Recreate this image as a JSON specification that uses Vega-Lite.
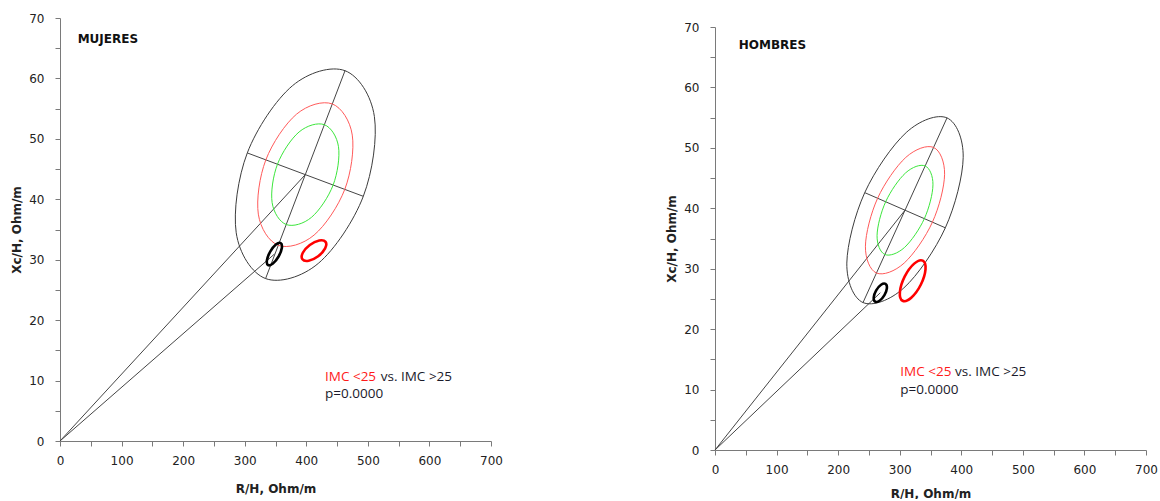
{
  "$schema": "https://vega.github.io/schema/vega-lite/v6.json",
  "padding": {"left": 10, "top": 12, "right": 0, "bottom": 0},
  "background": "white",
  "datasets": {
    "ell": [
      {"panel": "M", "id": "e95", "i": 0, "x": 462.9, "y": 61.28},
      {"panel": "M", "id": "e95", "i": 1, "x": 510.6, "y": 53.70},
      {"panel": "M", "id": "e95", "i": 2, "x": 492.6, "y": 40.49},
      {"panel": "M", "id": "e95", "i": 3, "x": 419.4, "y": 29.38},
      {"panel": "M", "id": "e95", "i": 4, "x": 333.9, "y": 26.88},
      {"panel": "M", "id": "e95", "i": 5, "x": 286.2, "y": 34.46},
      {"panel": "M", "id": "e95", "i": 6, "x": 304.2, "y": 47.67},
      {"panel": "M", "id": "e95", "i": 7, "x": 377.4, "y": 58.78},
      {"panel": "M", "id": "e75", "i": 0, "x": 442.2, "y": 55.78},
      {"panel": "M", "id": "e75", "i": 1, "x": 474.7, "y": 50.62},
      {"panel": "M", "id": "e75", "i": 2, "x": 462.5, "y": 41.64},
      {"panel": "M", "id": "e75", "i": 3, "x": 412.7, "y": 34.08},
      {"panel": "M", "id": "e75", "i": 4, "x": 354.6, "y": 32.38},
      {"panel": "M", "id": "e75", "i": 5, "x": 322.1, "y": 37.54},
      {"panel": "M", "id": "e75", "i": 6, "x": 334.3, "y": 46.52},
      {"panel": "M", "id": "e75", "i": 7, "x": 384.1, "y": 54.08},
      {"panel": "M", "id": "e50", "i": 0, "x": 429.4, "y": 52.34},
      {"panel": "M", "id": "e50", "i": 1, "x": 452.3, "y": 48.70},
      {"panel": "M", "id": "e50", "i": 2, "x": 443.6, "y": 42.36},
      {"panel": "M", "id": "e50", "i": 3, "x": 408.5, "y": 37.02},
      {"panel": "M", "id": "e50", "i": 4, "x": 367.5, "y": 35.82},
      {"panel": "M", "id": "e50", "i": 5, "x": 344.5, "y": 39.46},
      {"panel": "M", "id": "e50", "i": 6, "x": 353.2, "y": 45.80},
      {"panel": "M", "id": "e50", "i": 7, "x": 388.3, "y": 51.14},
      {"panel": "M", "id": "gBlack", "i": 0, "x": 358.4, "y": 32.75},
      {"panel": "M", "id": "gBlack", "i": 1, "x": 360.3, "y": 31.94},
      {"panel": "M", "id": "gBlack", "i": 2, "x": 355.0, "y": 30.53},
      {"panel": "M", "id": "gBlack", "i": 3, "x": 345.8, "y": 29.36},
      {"panel": "M", "id": "gBlack", "i": 4, "x": 338.0, "y": 29.11},
      {"panel": "M", "id": "gBlack", "i": 5, "x": 336.1, "y": 29.92},
      {"panel": "M", "id": "gBlack", "i": 6, "x": 341.4, "y": 31.33},
      {"panel": "M", "id": "gBlack", "i": 7, "x": 350.6, "y": 32.50},
      {"panel": "M", "id": "gRed", "i": 0, "x": 431.3, "y": 32.95},
      {"panel": "M", "id": "gRed", "i": 1, "x": 430.6, "y": 31.87},
      {"panel": "M", "id": "gRed", "i": 2, "x": 419.3, "y": 30.58},
      {"panel": "M", "id": "gRed", "i": 3, "x": 404.0, "y": 29.84},
      {"panel": "M", "id": "gRed", "i": 4, "x": 393.7, "y": 30.07},
      {"panel": "M", "id": "gRed", "i": 5, "x": 394.4, "y": 31.15},
      {"panel": "M", "id": "gRed", "i": 6, "x": 405.7, "y": 32.44},
      {"panel": "M", "id": "gRed", "i": 7, "x": 421.0, "y": 33.18},
      {"panel": "H", "id": "e95", "i": 0, "x": 376.8, "y": 54.96},
      {"panel": "H", "id": "e95", "i": 1, "x": 403.1, "y": 48.43},
      {"panel": "H", "id": "e95", "i": 2, "x": 374.1, "y": 36.77},
      {"panel": "H", "id": "e95", "i": 3, "x": 306.7, "y": 26.82},
      {"panel": "H", "id": "e95", "i": 4, "x": 240.4, "y": 24.40},
      {"panel": "H", "id": "e95", "i": 5, "x": 214.1, "y": 30.93},
      {"panel": "H", "id": "e95", "i": 6, "x": 243.2, "y": 42.59},
      {"panel": "H", "id": "e95", "i": 7, "x": 310.6, "y": 52.54},
      {"panel": "H", "id": "e75", "i": 0, "x": 355.0, "y": 50.07},
      {"panel": "H", "id": "e75", "i": 1, "x": 372.9, "y": 45.63},
      {"panel": "H", "id": "e75", "i": 2, "x": 353.1, "y": 37.70},
      {"panel": "H", "id": "e75", "i": 3, "x": 307.3, "y": 30.94},
      {"panel": "H", "id": "e75", "i": 4, "x": 262.2, "y": 29.29},
      {"panel": "H", "id": "e75", "i": 5, "x": 244.3, "y": 33.73},
      {"panel": "H", "id": "e75", "i": 6, "x": 264.1, "y": 41.66},
      {"panel": "H", "id": "e75", "i": 7, "x": 309.9, "y": 48.42},
      {"panel": "H", "id": "e50", "i": 0, "x": 341.3, "y": 47.01},
      {"panel": "H", "id": "e50", "i": 1, "x": 354.0, "y": 43.88},
      {"panel": "H", "id": "e50", "i": 2, "x": 340.0, "y": 38.28},
      {"panel": "H", "id": "e50", "i": 3, "x": 307.7, "y": 33.51},
      {"panel": "H", "id": "e50", "i": 4, "x": 275.9, "y": 32.35},
      {"panel": "H", "id": "e50", "i": 5, "x": 263.2, "y": 35.48},
      {"panel": "H", "id": "e50", "i": 6, "x": 277.2, "y": 41.08},
      {"panel": "H", "id": "e50", "i": 7, "x": 309.5, "y": 45.85},
      {"panel": "H", "id": "gBlack", "i": 0, "x": 276.9, "y": 27.49},
      {"panel": "H", "id": "gBlack", "i": 1, "x": 279.2, "y": 26.78},
      {"panel": "H", "id": "gBlack", "i": 2, "x": 275.2, "y": 25.62},
      {"panel": "H", "id": "gBlack", "i": 3, "x": 267.3, "y": 24.70},
      {"panel": "H", "id": "gBlack", "i": 4, "x": 260.1, "y": 24.56},
      {"panel": "H", "id": "gBlack", "i": 5, "x": 257.8, "y": 25.27},
      {"panel": "H", "id": "gBlack", "i": 6, "x": 261.8, "y": 26.42},
      {"panel": "H", "id": "gBlack", "i": 7, "x": 269.7, "y": 27.34},
      {"panel": "H", "id": "gRed", "i": 0, "x": 337.5, "y": 31.34},
      {"panel": "H", "id": "gRed", "i": 1, "x": 341.9, "y": 29.90},
      {"panel": "H", "id": "gRed", "i": 2, "x": 334.2, "y": 27.35},
      {"panel": "H", "id": "gRed", "i": 3, "x": 318.7, "y": 25.20},
      {"panel": "H", "id": "gRed", "i": 4, "x": 304.7, "y": 24.70},
      {"panel": "H", "id": "gRed", "i": 5, "x": 300.3, "y": 26.14},
      {"panel": "H", "id": "gRed", "i": 6, "x": 308.0, "y": 28.69},
      {"panel": "H", "id": "gRed", "i": 7, "x": 323.5, "y": 30.84}
    ],
    "segs": [
      {"panel": "M", "seg": "major", "x": 462.9, "y": 61.28, "x2": 333.9, "y2": 26.88},
      {"panel": "M", "seg": "minor", "x": 492.6, "y": 40.49, "x2": 304.2, "y2": 47.67},
      {"panel": "M", "seg": "toMean", "x": 0, "y": 0, "x2": 398.4, "y2": 44.08},
      {"panel": "M", "seg": "toGroup", "x": 0, "y": 0, "x2": 348.2, "y2": 30.93},
      {"panel": "H", "seg": "major", "x": 376.8, "y": 54.96, "x2": 240.4, "y2": 24.40},
      {"panel": "H", "seg": "minor", "x": 374.1, "y": 36.77, "x2": 243.2, "y2": 42.59},
      {"panel": "H", "seg": "toMean", "x": 0, "y": 0, "x2": 308.6, "y2": 39.68},
      {"panel": "H", "seg": "toGroup", "x": 0, "y": 0, "x2": 268.5, "y2": 26.02}
    ],
    "labels": [
      {"panel": "M", "kind": "title", "x": 28.7, "y": 66.5, "text": "MUJERES"},
      {"panel": "M", "kind": "red", "x": 430.4, "y": 10.0, "text": "IMC <25"},
      {"panel": "M", "kind": "dark", "x": 520.9, "y": 10.0, "text": "vs. IMC >25"},
      {"panel": "M", "kind": "dark", "x": 430.4, "y": 7.1, "text": "p=0.0000"},
      {"panel": "H", "kind": "title", "x": 38.5, "y": 67.0, "text": "HOMBRES"},
      {"panel": "H", "kind": "red", "x": 301.0, "y": 12.2, "text": "IMC <25"},
      {"panel": "H", "kind": "dark", "x": 389.8, "y": 12.2, "text": "vs. IMC >25"},
      {"panel": "H", "kind": "dark", "x": 301.0, "y": 9.2, "text": "p=0.0000"}
    ]
  },
  "hconcat": [
    {
      "width": 431,
      "height": 423,
      "encoding": {
        "x": {"field": "x", "type": "quantitative", "scale": {"domain": [0, 700], "nice": false, "zero": false},
          "axis": {"title": "R/H, Ohm/m", "values": [0, 50, 100, 150, 200, 250, 300, 350, 400, 450, 500, 550, 600, 650, 700], "labelExpr": "datum.value % 100 === 0 ? datum.label : ''", "labelPadding": 9, "titlePadding": 17}},
        "y": {"field": "y", "type": "quantitative", "scale": {"domain": [0, 70], "nice": false, "zero": false},
          "axis": {"title": "Xc/H, Ohm/m", "values": [0, 5, 10, 15, 20, 25, 30, 35, 40, 45, 50, 55, 60, 65, 70], "labelExpr": "datum.value % 10 === 0 ? datum.label : ''", "labelPadding": 11, "titlePadding": 5}}
      },
      "layer": [
        {
          "data": {"name": "segs"},
          "transform": [{"filter": {"field": "panel", "equal": "M"}}],
          "mark": {"type": "rule", "color": "#454545", "strokeWidth": 1},
          "encoding": {"x2": {"field": "x2"}, "y2": {"field": "y2"}}
        },
        {
          "data": {"name": "ell"},
          "transform": [{"filter": {"field": "panel", "equal": "M"}}, {"filter": {"field": "id", "oneOf": ["e95", "e75", "e50"]}}],
          "mark": {"type": "line", "interpolate": "cardinal-closed", "strokeWidth": 1},
          "encoding": {
            "order": {"field": "i", "type": "quantitative"},
            "color": {"field": "id", "type": "nominal", "legend": null, "scale": {"domain": ["e95", "e75", "e50", "gBlack", "gRed"], "range": ["#3c3c3c", "#ff5a5a", "#3ce63c", "#000000", "#ff0000"]}}
          }
        },
        {
          "data": {"name": "ell"},
          "transform": [{"filter": {"field": "panel", "equal": "M"}}, {"filter": {"field": "id", "oneOf": ["gBlack", "gRed"]}}],
          "mark": {"type": "line", "interpolate": "cardinal-closed", "strokeWidth": 2.6},
          "encoding": {
            "order": {"field": "i", "type": "quantitative"},
            "color": {"field": "id", "type": "nominal", "legend": null, "scale": {"domain": ["e95", "e75", "e50", "gBlack", "gRed"], "range": ["#3c3c3c", "#ff5a5a", "#3ce63c", "#000000", "#ff0000"]}}
          }
        },
        {
          "data": {"name": "labels"},
          "transform": [{"filter": {"field": "panel", "equal": "M"}}, {"filter": {"field": "kind", "equal": "title"}}],
          "mark": {"type": "text", "align": "left", "baseline": "middle", "font": "DejaVu Sans", "fontWeight": "bold", "fontSize": 12, "color": "#111"},
          "encoding": {"text": {"field": "text"}}
        },
        {
          "data": {"name": "labels"},
          "transform": [{"filter": {"field": "panel", "equal": "M"}}, {"filter": {"field": "kind", "equal": "red"}}],
          "mark": {"type": "text", "align": "left", "baseline": "alphabetic", "font": "Open Sans", "fontSize": 13.5, "color": "#ff1a1a"},
          "encoding": {"text": {"field": "text"}}
        },
        {
          "data": {"name": "labels"},
          "transform": [{"filter": {"field": "panel", "equal": "M"}}, {"filter": {"field": "kind", "equal": "dark"}}],
          "mark": {"type": "text", "align": "left", "baseline": "alphabetic", "font": "Open Sans", "fontSize": 13.5, "color": "#1a1a2a"},
          "encoding": {"text": {"field": "text"}}
        }
      ]
    },
    {
      "width": 431,
      "height": 432,
      "encoding": {
        "x": {"field": "x", "type": "quantitative", "scale": {"domain": [0, 700], "nice": false, "zero": false},
          "axis": {"title": "R/H, Ohm/m", "values": [0, 50, 100, 150, 200, 250, 300, 350, 400, 450, 500, 550, 600, 650, 700], "labelExpr": "datum.value % 100 === 0 ? datum.label : ''", "labelPadding": 9, "titlePadding": 13}},
        "y": {"field": "y", "type": "quantitative", "scale": {"domain": [0, 70], "nice": false, "zero": false, "range": [432, 9]},
          "axis": {"title": "Xc/H, Ohm/m", "values": [0, 5, 10, 15, 20, 25, 30, 35, 40, 45, 50, 55, 60, 65, 70], "labelExpr": "datum.value % 10 === 0 ? datum.label : ''", "labelPadding": 11, "titlePadding": 5}}
      },
      "layer": [
        {
          "data": {"name": "segs"},
          "transform": [{"filter": {"field": "panel", "equal": "H"}}],
          "mark": {"type": "rule", "color": "#454545", "strokeWidth": 1},
          "encoding": {"x2": {"field": "x2"}, "y2": {"field": "y2"}}
        },
        {
          "data": {"name": "ell"},
          "transform": [{"filter": {"field": "panel", "equal": "H"}}, {"filter": {"field": "id", "oneOf": ["e95", "e75", "e50"]}}],
          "mark": {"type": "line", "interpolate": "cardinal-closed", "strokeWidth": 1},
          "encoding": {
            "order": {"field": "i", "type": "quantitative"},
            "color": {"field": "id", "type": "nominal", "legend": null, "scale": {"domain": ["e95", "e75", "e50", "gBlack", "gRed"], "range": ["#3c3c3c", "#ff5a5a", "#3ce63c", "#000000", "#ff0000"]}}
          }
        },
        {
          "data": {"name": "ell"},
          "transform": [{"filter": {"field": "panel", "equal": "H"}}, {"filter": {"field": "id", "oneOf": ["gBlack", "gRed"]}}],
          "mark": {"type": "line", "interpolate": "cardinal-closed", "strokeWidth": 2.6},
          "encoding": {
            "order": {"field": "i", "type": "quantitative"},
            "color": {"field": "id", "type": "nominal", "legend": null, "scale": {"domain": ["e95", "e75", "e50", "gBlack", "gRed"], "range": ["#3c3c3c", "#ff5a5a", "#3ce63c", "#000000", "#ff0000"]}}
          }
        },
        {
          "data": {"name": "labels"},
          "transform": [{"filter": {"field": "panel", "equal": "H"}}, {"filter": {"field": "kind", "equal": "title"}}],
          "mark": {"type": "text", "align": "left", "baseline": "middle", "font": "DejaVu Sans", "fontWeight": "bold", "fontSize": 12, "color": "#111"},
          "encoding": {"text": {"field": "text"}}
        },
        {
          "data": {"name": "labels"},
          "transform": [{"filter": {"field": "panel", "equal": "H"}}, {"filter": {"field": "kind", "equal": "red"}}],
          "mark": {"type": "text", "align": "left", "baseline": "alphabetic", "font": "Open Sans", "fontSize": 13.5, "color": "#ff1a1a"},
          "encoding": {"text": {"field": "text"}}
        },
        {
          "data": {"name": "labels"},
          "transform": [{"filter": {"field": "panel", "equal": "H"}}, {"filter": {"field": "kind", "equal": "dark"}}],
          "mark": {"type": "text", "align": "left", "baseline": "alphabetic", "font": "Open Sans", "fontSize": 13.5, "color": "#1a1a2a"},
          "encoding": {"text": {"field": "text"}}
        }
      ]
    }
  ],
  "resolve": {"scale": {"color": "independent"}},
  "config": {
    "view": {"stroke": null},
    "concat": {"spacing": 162},
    "axis": {
      "grid": false,
      "domainColor": "#7a7a7a",
      "tickColor": "#7a7a7a",
      "tickSize": 5,
      "labelFont": "DejaVu Sans",
      "labelFontSize": 12,
      "labelColor": "#222222",
      "labelFlush": false,
      "labelOverlap": false,
      "labelBound": false,
      "titleFont": "DejaVu Sans",
      "titleFontSize": 12,
      "titleFontWeight": "bold",
      "titleColor": "#222222"
    }
  }
}
